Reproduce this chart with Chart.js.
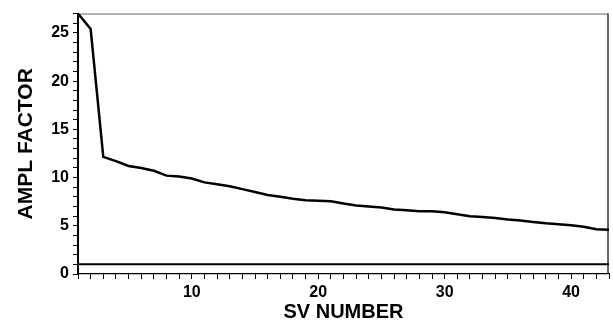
<!DOCTYPE html>
<html>
<head>
<meta charset="utf-8">
<script src="https://cdn.jsdelivr.net/npm/chart.js@4/dist/chart.umd.min.js"></script>
<style>
html,body{margin:0;padding:0;background:#fff;}
#wrap{width:613px;height:327px;}
</style>
</head>
<body>
<div id="wrap"><canvas id="c" width="613" height="327"></canvas></div>
<script>
const svNumbers = [1,2,3,4,5,6,7,8,9,10,11,12,13,14,15,16,17,18,19,20,21,22,23,24,25,26,27,28,29,30,31,32,33,34,35,36,37,38,39,40,41,42,43];
const amplFactor = [27.0,25.4,12.15,11.7,11.2,11.0,10.7,10.2,10.1,9.9,9.5,9.3,9.1,8.8,8.5,8.2,8.0,7.8,7.65,7.6,7.55,7.3,7.1,7.0,6.9,6.7,6.6,6.5,6.5,6.4,6.2,6.0,5.9,5.8,5.65,5.55,5.4,5.25,5.15,5.05,4.9,4.65,4.6];
const referenceLevel = [1,1];
const referenceX = [1,43];
const xTickLabels = [10,20,30,40];
const yTickLabels = [0,5,10,15,20,25];

const FONT = '"Liberation Sans", Arial, sans-serif';

const framePlugin = {
  id: 'frame',
  beforeDraw(chart) {
    const {ctx, chartArea: a} = chart;
    ctx.save();
    ctx.strokeStyle = '#999';
    ctx.lineWidth = 1.5;
    ctx.beginPath();
    ctx.moveTo(a.left, a.top + 0.5);
    ctx.lineTo(a.right - 1, a.top + 0.5);
    ctx.stroke();
    ctx.strokeStyle = '#333';
    ctx.beginPath();
    ctx.moveTo(a.right - 1, a.top);
    ctx.lineTo(a.right - 1, a.bottom);
    ctx.stroke();
    ctx.restore();
  }
};

new Chart(document.getElementById('c'), {
  type: 'line',
  data: {
    datasets: [
      {
        data: svNumbers.map((x, i) => ({x, y: amplFactor[i]})),
        borderColor: '#000', borderWidth: 2.5, pointRadius: 0, tension: 0, fill: false
      },
      {
        data: referenceX.map((x, i) => ({x, y: referenceLevel[i]})),
        borderColor: '#000', borderWidth: 2, pointRadius: 0, tension: 0, fill: false
      }
    ]
  },
  options: {
    responsive: false,
    animation: false,
    events: [],
    layout: {padding: {left: 0, top: 6, right: 1, bottom: 0}},
    plugins: {legend: {display: false}, tooltip: {enabled: false}},
    scales: {
      x: {
        type: 'linear', min: 1, max: 43,
        afterFit(s) { s.height = 53; },
        border: {display: true, color: '#000', width: 1.2},
        grid: {display: true, drawOnChartArea: false, drawTicks: true, tickLength: 5, color: '#000', lineWidth: 1},
        ticks: {
          stepSize: 1, autoSkip: false, maxRotation: 0, color: '#000', padding: 4,
          font: {family: FONT, size: 16, weight: 'bold'},
          callback: v => xTickLabels.includes(v) ? String(v) : ''
        },
        title: {display: true, text: 'SV NUMBER', color: '#000', padding: {top: 0, bottom: 3},
          font: {family: FONT, size: 20, weight: 'bold'}}
      },
      y: {
        type: 'linear', min: 0, max: 27,
        afterFit(s) { s.width = 78; },
        border: {display: true, color: '#000', width: 2},
        grid: {display: true, drawOnChartArea: false, drawTicks: true, tickLength: 5, color: '#000', lineWidth: 1},
        ticks: {
          stepSize: 1, autoSkip: false, color: '#000', padding: 4,
          font: {family: FONT, size: 16, weight: 'bold'},
          callback: v => yTickLabels.includes(v) ? String(v) : ''
        },
        title: {display: true, text: 'AMPL FACTOR', color: '#000', padding: {top: 14, bottom: 0},
          font: {family: FONT, size: 21, weight: 'bold'}}
      }
    }
  },
  plugins: [framePlugin]
});
</script>
</body>
</html>
